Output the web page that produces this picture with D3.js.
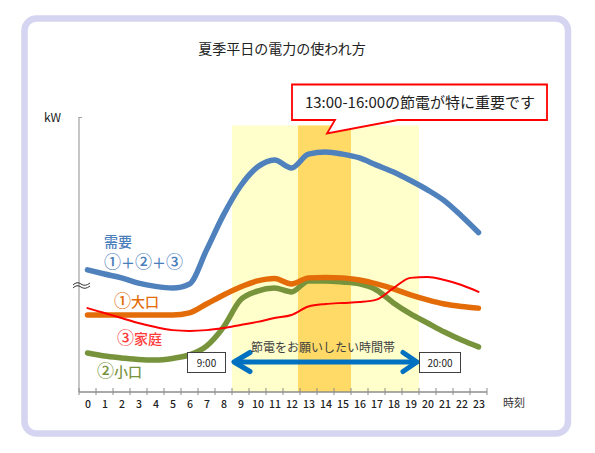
<!DOCTYPE html>
<html>
<head>
<meta charset="utf-8">
<script src="https://cdn.jsdelivr.net/npm/d3@7"></script>
<style>
  html, body { margin: 0; padding: 0; background: #fff; }
  svg { display: block; }
  text { font-family: "Noto Sans CJK JP", "Noto Sans", sans-serif; }
</style>
</head>
<body>
<svg id="chart" width="595" height="453"></svg>
<script>
// ---- data ----
const hours = d3.range(0, 24);
const demand   = [44.4, 42.9, 41.5, 39.6, 38.4, 37.8, 39.3, 51.6, 64.4, 74.9, 81.8, 84.4, 81.5, 86.5, 87.3, 86.5, 85.1, 82.5, 80.0, 76.9, 73.5, 69.5, 64.0, 58.0];
const large    = [28.0, 28.0, 28.0, 28.0, 28.0, 28.0, 28.8, 32.0, 35.3, 38.2, 40.4, 41.3, 39.3, 41.5, 41.6, 41.5, 40.7, 39.3, 37.5, 35.3, 33.5, 32.0, 31.1, 30.5];
const small    = [14.2, 13.1, 12.4, 11.8, 11.6, 12.2, 13.5, 16.7, 23.6, 33.5, 36.7, 37.8, 36.4, 40.4, 40.4, 40.0, 39.3, 37.1, 32.4, 28.4, 25.1, 21.8, 18.9, 16.4];
const household= [30.5, 28.7, 26.9, 25.1, 23.6, 22.5, 22.2, 22.5, 23.3, 24.4, 25.5, 26.9, 28.0, 31.1, 32.0, 32.4, 32.7, 33.6, 37.8, 41.5, 41.8, 40.7, 38.9, 36.4];
const requestPeriod = [9, 20];   // 節電をお願いしたい時間帯
const peakPeriod = [13, 16];     // 特に重要
const title = "夏季平日の電力の使われ方";
const calloutText = "13:00-16:00の節電が特に重要です";
const requestText = "節電をお願いしたい時間帯";
const seriesLabels = [
  { lines: ["需要", "①＋②＋③"], color: "#4A7EBB" },
  { lines: ["①大口"], color: "#E36C09" },
  { lines: ["③家庭"], color: "#FF3B3B" },
  { lines: ["②小口"], color: "#77933C" }
];

// ---- layout ----
const svg = d3.select("#chart");
const x = d3.scaleLinear().domain([-0.5, 23.5]).range([79, 487]);
const y = d3.scaleLinear().domain([0, 100]).range([392, 117]);

// frame
svg.append("rect").attr("x", 24.5).attr("y", 18.5).attr("width", 543.5).attr("height", 415)
  .attr("rx", 12).attr("fill", "#fff").attr("stroke", "#D5D5F1").attr("stroke-width", 6.5);

// title
svg.append("text").attr("x", 282).attr("y", 54).attr("text-anchor", "middle")
  .attr("font-size", 14).attr("fill", "#222").text(title);

// highlight bands
const bandTop = 125.5;
svg.append("rect").attr("x", x(requestPeriod[0] - 0.5)).attr("y", bandTop)
  .attr("width", x(requestPeriod[1] - 0.5) - x(requestPeriod[0] - 0.5)).attr("height", y(0) - bandTop)
  .attr("fill", "#FFFFCC");
svg.append("rect").attr("x", x(peakPeriod[0] - 0.5) - 2).attr("y", bandTop)
  .attr("width", x(peakPeriod[1] - 0.5) - x(peakPeriod[0] - 0.5) + 2).attr("height", y(0) - bandTop)
  .attr("fill", "#FFDA66");

// y axis
svg.append("path").attr("d", `M${x(-0.5) + 3},${y(100) + 0.5}H${x(-0.5)}V${y(0)}`)
  .attr("fill", "none").attr("stroke", "#A0A0A0").attr("stroke-width", 1.2);
svg.append("text").attr("x", 44).attr("y", 122).attr("font-size", 12).attr("fill", "#222").text("kW");

// x axis
svg.append("line").attr("x1", x(-0.5)).attr("x2", x(23.5)).attr("y1", y(0)).attr("y2", y(0))
  .attr("stroke", "#8C8C8C").attr("stroke-width", 1.5);
svg.append("g").selectAll("line").data(d3.range(-0.5, 24, 1)).join("line")
  .attr("x1", d => x(d)).attr("x2", d => x(d)).attr("y1", y(0) - 4).attr("y2", y(0) + 3)
  .attr("stroke", "#8C8C8C").attr("stroke-width", 1);
const xAxis = svg.append("g").attr("transform", `translate(0,${y(0)})`)
  .call(d3.axisBottom(x).tickValues(hours).tickSize(0).tickPadding(9).tickFormat(d3.format("d")));
xAxis.select(".domain").remove();
xAxis.selectAll("text").attr("font-size", 10.5).attr("fill", "#222")
  .attr("font-family", "'Noto Sans CJK JP', sans-serif").attr("font-weight", 500);
svg.append("text").attr("x", 503).attr("y", 407).attr("font-size", 11).attr("fill", "#333").text("時刻");

// break mark
const brk = svg.append("g").attr("fill", "none").attr("stroke", "#333").attr("stroke-width", 1);
[0, 3].forEach(o => {
  brk.append("path").attr("d", `M73,${285 + o} q4,-4 8,-1 t9,-1`);
});

// lines
const line = d3.line().x((d, i) => x(hours[i])).y(d => y(d)).curve(d3.curveMonotoneX);
const series = [
  { data: small, color: "#77933C", w: 5.5 },
  { data: large, color: "#E36C09", w: 5.5 },
  { data: household, color: "#FF0000", w: 2 },
  { data: demand, color: "#4F81BD", w: 5.5 }
];
svg.append("g").selectAll("path").data(series).join("path")
  .attr("d", d => line(d.data)).attr("fill", "none")
  .attr("stroke", d => d.color).attr("stroke-width", d => d.w)
  .attr("stroke-linecap", "round").attr("stroke-linejoin", "round");

// series labels: one text element per label, lines as tspans; circled digits a little larger
const labelPos = [[104, 246.5, 21.5], [114, 307, 0], [117, 344, 0], [97, 377, 0]];
const circled = /[①②③]/;
seriesLabels.forEach((s, i) => {
  const [lx, ly, lh] = labelPos[i];
  const txt = svg.append("text").attr("x", lx).attr("y", ly).attr("font-size", 14)
    .attr("fill", s.color).attr("font-weight", 500);
  s.lines.forEach((t, j) => {
    const ln = txt.append("tspan").attr("x", lx).attr("dy", j === 0 ? 0 : lh);
    Array.from(t).forEach(ch => {
      const ts = ln.append("tspan").text(ch);
      if (circled.test(ch)) ts.attr("font-size", 17);
    });
  });
});

// request period arrow
const ay = 362;
const ax1 = x(requestPeriod[0] - 0.5) + 1, ax2 = x(requestPeriod[1] - 0.5) - 1;
const arrow = svg.append("g").attr("fill", "none").attr("stroke", "#0070C0").attr("stroke-width", 5)
  .attr("stroke-linecap", "round").attr("stroke-linejoin", "round");
arrow.append("line").attr("x1", ax1 + 2).attr("x2", ax2 - 2).attr("y1", ay).attr("y2", ay);
arrow.append("path").attr("d", `M${ax1 + 17},${ay - 9.5}L${ax1 + 1},${ay}L${ax1 + 17},${ay + 9.5}`);
arrow.append("path").attr("d", `M${ax2 - 15},${ay - 9.5}L${ax2 - 1},${ay}L${ax2 - 15},${ay + 9.5}`);
svg.append("text").attr("x", 323).attr("y", 352).attr("text-anchor", "middle")
  .attr("font-size", 12).attr("fill", "#404040").text(requestText);

// time boxes
const boxes = [
  { label: requestPeriod[0] + ":00", x0: x(requestPeriod[0] - 0.5) - 45, w: 38 },
  { label: requestPeriod[1] + ":00", x0: x(requestPeriod[1] - 0.5), w: 41 }
];
boxes.forEach(b => {
  svg.append("rect").attr("x", b.x0 + 0.5).attr("y", 352.5).attr("width", b.w).attr("height", 20)
    .attr("fill", "#fff").attr("stroke", "#404040").attr("stroke-width", 1);
  svg.append("text").attr("x", b.x0 + 0.5 + b.w / 2).attr("y", 366.5).attr("text-anchor", "middle")
    .attr("font-size", 10).attr("fill", "#222").text(b.label);
});

// callout
const cx0 = 292, cx1 = 547, cy0 = 84.5, cy1 = 120;
svg.append("path")
  .attr("d", `M${cx0},${cy0}H${cx1}V${cy1}H398L327,133.5L335,${cy1}H${cx0}Z`)
  .attr("fill", "#fff").attr("stroke", "#FF0000").attr("stroke-width", 1.8).attr("stroke-linejoin", "miter");
svg.append("text").attr("x", 420).attr("y", 108).attr("text-anchor", "middle")
  .attr("font-size", 15).attr("fill", "#222").text(calloutText);
</script>
</body>
</html>
